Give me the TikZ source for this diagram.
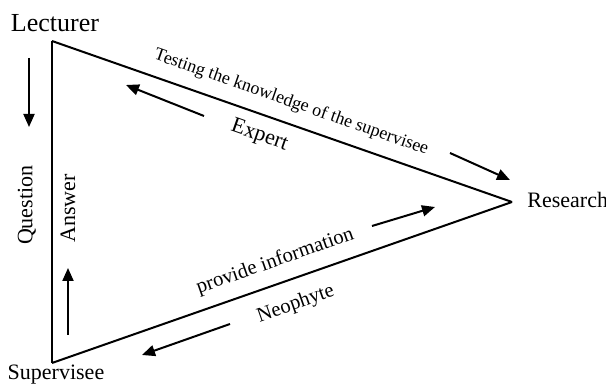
\documentclass[tikz,border=0pt]{standalone}
\usepackage{fontspec}
\setmainfont{Liberation Serif}
\usetikzlibrary{arrows.meta}

\begin{document}
\begin{tikzpicture} [x=0.5pt, y=-0.5pt,
            side/.style={black, line width=1pt},
            flow/.style={black, line width=1pt, -{Triangle[length=6.5pt, width=5.5pt]}},
            corner/.style={inner sep=0pt, font=\fontsize{11}{13}\selectfont},
            role/.style={inner sep=0pt, sloped, font=\fontsize{11}{13}\selectfont}]

        \useasboundingbox (0,0) rectangle (606,384);

        % the three corners
        \coordinate (lec) at (52,41);
        \coordinate (res) at (512,202);
        \coordinate (sup) at (52,363);
        \node[corner, font=\fontsize{13}{15}\selectfont] (lecturer) at (55,23.5) {Lecturer};
        \node[corner, anchor=west] (research) at (527,200) {Research};
        \node[corner] (supervisee) at (56,374.5) {Supervisee};

        % sides of the triangle
        \draw[side] (lec) -- (res)
            node[role, pos=0.505, yshift=10.5pt, font=\fontsize{9}{11}\selectfont] (testing) {Testing the knowledge of the supervisee}
            node[role, pos=0.466, yshift=-10.5pt] (expert) {Expert};
        \draw[side] (sup) -- (res)
            node[role, pos=0.501, yshift=11pt, font=\fontsize{10.3}{12}\selectfont] (provide) {provide information}
            node[role, pos=0.512, yshift=-12.5pt, font=\fontsize{10.3}{12}\selectfont] (neophyte) {Neophyte};
        \draw[side] (sup) -- (lec)
            node[role, pos=0.49, yshift=12.5pt] (question) {Question}
            node[role, pos=0.48, yshift=-8pt] (answer) {Answer};

        % direction arrows
        \coordinate (q1) at (29,58);   \coordinate (q2) at (29,127);
        \coordinate (a1) at (68,335);  \coordinate (a2) at (68,268);
        \coordinate (e1) at (204,116); \coordinate (e2) at (126,85);
        \coordinate (t1) at (450,153); \coordinate (t2) at (510,180);
        \coordinate (p1) at (372,226); \coordinate (p2) at (435,207);
        \coordinate (n1) at (230,324); \coordinate (n2) at (142,355);
        \draw[flow] (q1) -- (q2);
        \draw[flow] (a1) -- (a2);
        \draw[flow] (e1) -- (e2);
        \draw[flow] (t1) -- (t2);
        \draw[flow] (p1) -- (p2);
        \draw[flow] (n1) -- (n2);
    \end{tikzpicture}
\end{document}
